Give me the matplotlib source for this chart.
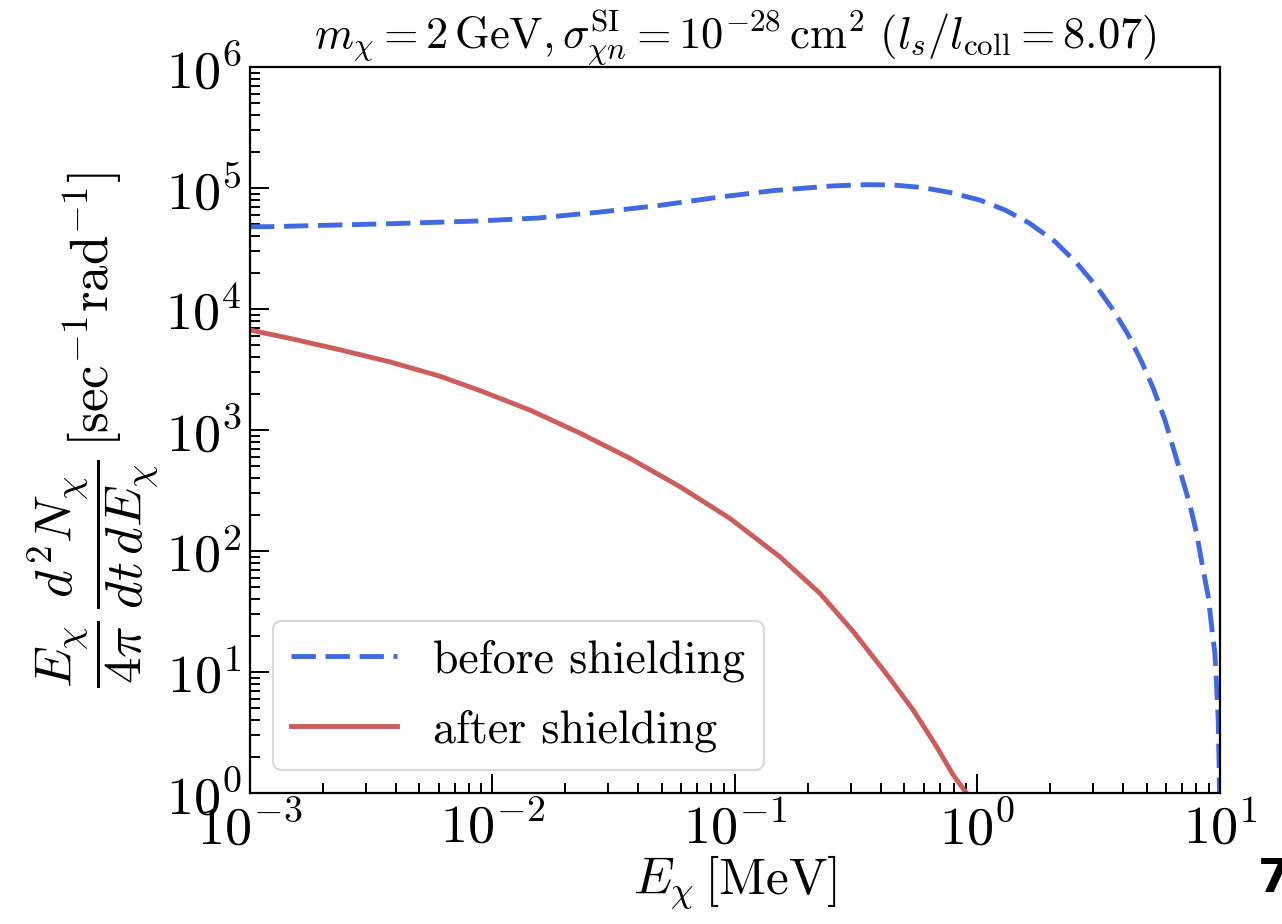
import matplotlib
matplotlib.use('Agg')
import matplotlib.pyplot as plt

plt.rcParams['mathtext.fontset'] = 'cm'
plt.rcParams['font.family'] = 'serif'
plt.rcParams['font.serif'] = ['cmr10']
plt.rcParams['axes.formatter.use_mathtext'] = True

# values (MeV, sec^-1 rad^-1)
e_before = [0.001, 0.00121, 0.00383, 0.00877, 0.01546, 0.0272, 0.048, 0.0828,
            0.143, 0.252, 0.342, 0.444, 0.589, 0.766, 1.02, 1.30, 1.64, 2.09,
            2.57, 3.10, 3.63, 4.19, 4.75, 5.31, 5.93, 6.64, 7.52, 8.01, 8.53,
            8.95, 9.24, 9.53, 9.69, 9.84, 9.90, 9.96]
n_before = [4.78e4, 4.79e4, 5.07e4, 5.34e4, 5.65e4, 6.30e4, 7.14e4, 8.32e4,
            9.5e4, 1.04e5, 1.065e5, 1.06e5, 1.01e5, 9.2e4, 7.96e4, 6.58e4, 5.11e4, 3.60e4,
            2.39e4, 1.53e4, 9.8e3, 6.1e3, 3.67e3, 2.21e3, 1.21e3, 565, 240, 140, 69.7,
            41.9, 23.7, 14.3, 7.55, 4.0, 2.1, 1.0]

e_after = [0.001, 0.00146, 0.00235, 0.00378, 0.00608, 0.00887, 0.01428, 0.0230,
           0.0369, 0.0593, 0.0953, 0.153, 0.224, 0.308, 0.422, 0.543, 0.679,
           0.792, 0.90]
n_after = [6700, 5720, 4600, 3650, 2780, 2120, 1460, 940,
           583, 340, 186, 89.7, 44.7, 21.5, 9.6, 4.85, 2.41,
           1.42, 1.0]

labels = ['before shielding', 'after shielding']

fig = plt.figure(figsize=(12.82, 9.24), dpi=100)
ax = fig.add_axes([0.195, 0.1418, 0.7566, 0.7857])

ax.plot(e_before, n_before, color='royalblue', lw=3.5, ls=(0, (5, 2)), label=labels[0])
ax.plot(e_after, n_after, color='indianred', lw=3.5, label=labels[1])

ax.set_xscale('log')
ax.set_yscale('log')
ax.set_xlim(1e-3, 1e1)
ax.set_ylim(1e0, 1e6)

for s in ax.spines.values():
    s.set_linewidth(1.6)
ax.tick_params(which='both', direction='in', top=False, right=False, width=1.4)
ax.tick_params(which='major', length=14, labelsize=39, pad=6)
ax.tick_params(which='minor', length=7)

ax.set_xlabel(r'$E_\chi\,[\mathrm{MeV}]$', fontsize=37, labelpad=0)
ax.set_ylabel(r'$\dfrac{E_\chi}{4\pi}\,\dfrac{d^2N_\chi}{dt\,dE_\chi}\,[\mathrm{sec}^{-1}\mathrm{rad}^{-1}]$',
              fontsize=38, labelpad=4)
ax.set_title(r'$m_\chi = 2\,\mathrm{GeV}, \sigma_{\chi n}^{\mathrm{SI}} = 10^{-28}\,\mathrm{cm}^2\ (l_s/l_{\mathrm{coll}} = 8.07)$',
             fontsize=32, pad=4)

leg = ax.legend(loc='lower left', fontsize=33, handlelength=2.3, borderaxespad=0.5,
                labelspacing=0.6, fancybox=True, framealpha=1.0, edgecolor='#d8d8d8')
leg.get_frame().set_linewidth(1.5)

fig.text(0.981, 0.035, '7', fontsize=34, fontweight='bold', family='DejaVu Sans')

fig.savefig('out.png', dpi=100)
